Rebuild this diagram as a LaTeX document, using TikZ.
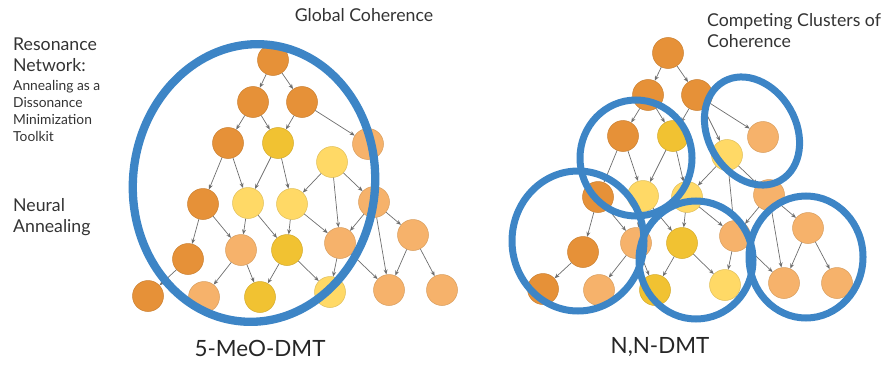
\documentclass[tikz,border=0pt]{standalone}
\usepackage{fontspec}
\setmainfont{Lato}
\usetikzlibrary{arrows.meta}

\definecolor{deeporange}{HTML}{E69138}
\definecolor{goldcell}{HTML}{F1C232}
\definecolor{paleyellow}{HTML}{FFD966}
\definecolor{peach}{HTML}{F6B26B}
\definecolor{ringblue}{HTML}{3D85C6}
\definecolor{edgegray}{HTML}{6E6E6E}
\definecolor{textgray}{HTML}{333333}

\tikzset{
  cell/.style={circle,fill=#1,draw=#1!88!black,line width=0.5pt,minimum size=31pt,inner sep=0pt},
  link/.style={draw=edgegray,line width=0.7pt,-{Stealth[length=5pt,width=4pt]}},
  ring/.style={draw=ringblue,line width=7pt},
  txt/.style={text=textgray,inner sep=0pt,font=\fontsize{17.7}{21}\selectfont},
  smalltxt/.style={text=textgray,inner sep=0pt,font=\fontsize{13.8}{17}\selectfont},
  bigtxt/.style={text=black!85,inner sep=0pt,font=\fontsize{22.4}{26}\selectfont}
}

\begin{document}
\begin{tikzpicture}[x=1pt,y=-1pt]
    \useasboundingbox (0,0) rectangle (886,369);
    % the same network twice, the right one a bit higher
    \foreach \p/\dx/\dy in {L/0/0,R/395/-7}{
        \begin{scope}[shift={(\dx,\dy)}]
            \foreach \n/\x/\y/\c in {A/273/60/deeporange,B1/253/102/deeporange,B2/302/102/deeporange,
                C1/228/143/deeporange,C2/278/143/goldcell,C3/368/144/peach,D0/332/162/paleyellow,
                E1/203/204/deeporange,E2/248/203/paleyellow,E3/292/204/paleyellow,E4/374/202/peach,
                F1/188/259/deeporange,F2/241/250/peach,F3/287/250/goldcell,F4/340/243/peach,F5/413/235/peach,
                G1/148/296/deeporange,G2/204/297/peach,G3/260/297/goldcell,G4/330/292/paleyellow,
                G5/389/290/peach,G6/442/290/peach}
                \node[cell=\c] (\p\n) at (\x,\y) {};
        \end{scope}
        \foreach \a/\b in {A/B1,A/B2,B1/C1,B1/C2,B2/C2,B2/C3,C1/E1,C1/E2,C2/E2,C2/E3,
            D0/E3,D0/F4,D0/E4,E1/F1,E1/F2,E2/F2,E2/F3,E3/F3,E3/F4,E4/F4,E4/G5,E4/F5,
            F1/G1,F2/G2,F2/G3,F3/G3,F3/G4,F4/G4,F4/G5,F5/G5,F5/G6}
            \draw[link] (\p\a) -- (\p\b);
    }
    \draw[link] (RB2) -- (RD0);

    % coherence rings
    \draw[ring,line width=8.3pt,rotate around={-6:(254,183)}] (254,183) ellipse [x radius=121pt,y radius=139pt];
    \draw[ring] (636,158) ellipse [x radius=56pt,y radius=58pt];
    \draw[ring,rotate around={30:(752,131)}] (752,131) ellipse [x radius=44pt,y radius=57pt];
    \draw[ring] (578,241) ellipse [x radius=66pt,y radius=70pt];
    \draw[ring] (696,260) ellipse [x radius=57pt,y radius=59pt];
    \draw[ring] (806,257) ellipse [x radius=57pt,y radius=61pt];

    % texts
    \node[txt] (global) at (364,15) {Global Coherence};
    \node[txt,anchor=west,align=left] (reso) at (13,55) {Resonance\\Network:};
    \node[smalltxt,anchor=west,align=left] (toolkit) at (13,111) {Annealing as a\\Dissonance\\Minimization\\Toolkit};
    \node[txt,anchor=west,align=left] (neural) at (13,217) {Neural\\Annealing};
    \node[txt,anchor=west,align=left] (clusters) at (707,31) {Competing Clusters of\\Coherence};
    \node[bigtxt] (meo) at (260,348) {5-MeO-DMT};
    \node[bigtxt] (nn) at (660,347) {N,N-DMT};
\end{tikzpicture}
\end{document}
